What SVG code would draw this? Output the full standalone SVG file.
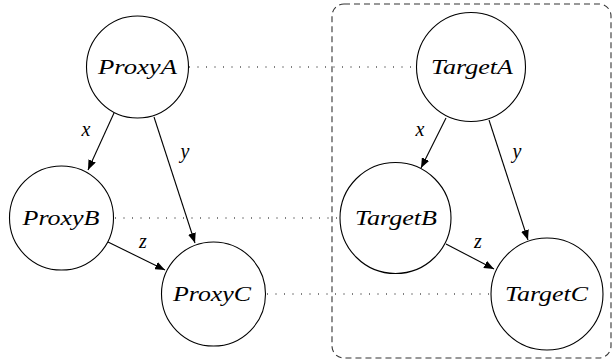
<svg xmlns="http://www.w3.org/2000/svg" width="616" height="360" viewBox="0 0 616 360">
<defs>
<marker id="arr" viewBox="0 0 10 8" refX="10" refY="4" markerWidth="10" markerHeight="8" markerUnits="userSpaceOnUse" orient="auto">
<path d="M0,0 L10,4 L0,8 Z" fill="#000"/>
</marker>
<style>
.node circle{fill:#fff;stroke:#000;stroke-width:1.1}
.node text{font-family:'Liberation Serif','Times New Roman',serif;font-style:italic;font-weight:normal;font-size:20px;text-anchor:middle;fill:#000}
.lbl{font-family:'Liberation Serif','Times New Roman',serif;font-style:italic;font-size:20px;text-anchor:middle;fill:#000}
.edge{stroke:#000;stroke-width:1.1;fill:none;marker-end:url(#arr)}
.dot{stroke:#000;stroke-width:1;fill:none;stroke-dasharray:1 7.5}
.box{stroke:#333;stroke-width:1.1;fill:none;stroke-dasharray:6 4}
</style>
</defs>
<rect class="box" x="332" y="4" width="279" height="354" rx="12" ry="12"/>
<g id="connectors">
<line class="dot" x1="189" y1="67" x2="416" y2="67"/>
<line class="dot" x1="115" y1="218" x2="340" y2="218"/>
<line class="dot" x1="267" y1="294" x2="491" y2="294"/>
<line class="edge" x1="114" y1="113" x2="88" y2="170"/>
<line class="edge" x1="154" y1="117" x2="195" y2="243"/>
<line class="edge" x1="108" y1="242" x2="165" y2="270"/>
<line class="edge" x1="446" y1="118" x2="421" y2="168"/>
<line class="edge" x1="489" y1="120" x2="528" y2="240"/>
<line class="edge" x1="446" y1="244" x2="494" y2="269"/>
<text class="lbl" x="86" y="136">x</text>
<text class="lbl" x="185" y="158">y</text>
<text class="lbl" x="143" y="248">z</text>
<text class="lbl" x="420" y="136">x</text>
<text class="lbl" x="517" y="158">y</text>
<text class="lbl" x="478" y="248">z</text>
</g>
<g id="ProxyA" class="node"><circle cx="137.5" cy="67" r="51"/><text x="137.5" y="74" textLength="79" lengthAdjust="spacingAndGlyphs">ProxyA</text></g>
<g id="ProxyB" class="node"><circle cx="61.5" cy="218" r="52"/><text x="61" y="225" textLength="77" lengthAdjust="spacingAndGlyphs">ProxyB</text></g>
<g id="ProxyC" class="node"><circle cx="213.5" cy="294" r="52"/><text x="212" y="301" textLength="78" lengthAdjust="spacingAndGlyphs">ProxyC</text></g>
<g id="TargetA" class="node"><circle cx="471" cy="67" r="54.5"/><text x="472" y="74" textLength="82" lengthAdjust="spacingAndGlyphs">TargetA</text></g>
<g id="TargetB" class="node"><circle cx="395.5" cy="218" r="55.5"/><text x="396" y="225" textLength="82" lengthAdjust="spacingAndGlyphs">TargetB</text></g>
<g id="TargetC" class="node"><circle cx="547" cy="294" r="56"/><text x="546.5" y="301" textLength="83" lengthAdjust="spacingAndGlyphs">TargetC</text></g>
</svg>
